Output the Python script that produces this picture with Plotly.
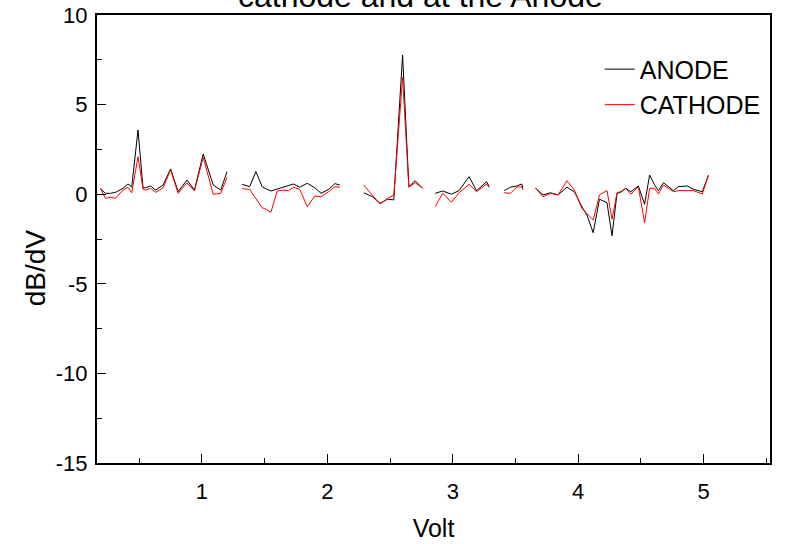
import plotly.graph_objects as go

# ---- data (None = gap between segments) ----
volt = [
    0.19, 0.23, 0.27, 0.31, 0.37, 0.41, 0.44, 0.49, 0.53, 0.55, 0.59, 0.63, 0.69, 0.75, 0.81, 0.88, 0.94, 1.01, 1.09, 1.15, 1.20,
    None,
    1.32, 1.38, 1.43, 1.48, 1.51, 1.55, 1.60, 1.65, 1.69, 1.73, 1.78, 1.84, 1.90, 1.95, 2.01, 2.06, 2.10,
    None,
    2.29, 2.36, 2.42, 2.48, 2.53, 2.60, 2.65, 2.70, 2.76,
    None,
    2.86, 2.92, 2.99, 3.05, 3.13, 3.19, 3.27, 3.29,
    None,
    3.41, 3.46, 3.51, 3.55, 3.56,
    None,
    3.66, 3.72, 3.78, 3.84, 3.91, 3.97, 4.03, 4.07, 4.12, 4.17, 4.23, 4.27, 4.31, 4.34,
    4.38, 4.42, 4.48, 4.53, 4.57, 4.61, 4.64, 4.68, 4.76, 4.80, 4.87, 4.92, 4.99, 5.04,
]

anode = [
    0.33, 0.05, 0.05, 0.10, 0.33, 0.57, 0.40, 3.58, 0.36, 0.36, 0.46, 0.23, 0.51, 1.41, 0.14, 0.79, 0.23, 2.24, 0.51, 0.23, 1.26,
    None,
    0.55, 0.42, 1.26, 0.42, 0.30, 0.18, 0.29, 0.39, 0.45, 0.57, 0.39, 0.61, 0.36, 0.05, 0.27, 0.59, 0.51,
    None,
    0.08, -0.14, -0.51, -0.28, -0.32, 7.77, 0.42, 0.75, 0.33,
    None,
    0.05, 0.18, 0.00, 0.20, 0.98, 0.20, 0.70, 0.42,
    None,
    0.20, 0.39, 0.46, 0.57, 0.33,
    None,
    0.33, -0.04, 0.08, -0.04, 0.39, 0.14, -0.70, -1.16, -2.15, -0.28, -0.47, -2.32, 0.05, 0.11,
    0.33, 0.14, 0.46, -0.56, 1.07, 0.51, 0.20, 0.64, 0.20, 0.42, 0.46, 0.27, 0.14, 1.07,
]

cathode = [
    0.33, -0.23, -0.17, -0.23, 0.23, 0.39, 0.08, 2.09, 0.27, 0.23, 0.33, 0.10, 0.36, 1.35, 0.05, 0.64, 0.18, 2.06, -0.01, 0.05, 0.94,
    None,
    0.31, 0.27, -0.25, -0.75, -0.84, -1.01, 0.18, 0.23, 0.20, 0.39, 0.27, -0.70, -0.10, -0.14, 0.14, 0.42, 0.39,
    None,
    0.51, -0.04, -0.55, -0.23, -0.06, 6.52, 0.39, 0.64, 0.33,
    None,
    -0.70, 0.05, -0.45, 0.08, 0.55, 0.14, 0.57, 0.39,
    None,
    0.08, 0.05, 0.39, 0.42, 0.23,
    None,
    0.33, -0.14, 0.05, -0.04, 0.75, 0.23, -0.79, -1.10, -1.44, -0.04, 0.20, -1.40, 0.08, 0.15,
    0.33, 0.00, 0.42, -1.59, 0.33, 0.33, 0.01, 0.51, 0.14, 0.20, 0.20, 0.20, 0.01, 1.07,
]

x_ticks = [1, 2, 3, 4, 5]
y_ticks = [-15, -10, -5, 0, 5, 10]

FONT = "Liberation Sans, Arial, sans-serif"

fig = go.Figure()
fig.add_trace(go.Scatter(x=volt, y=anode, mode="lines", name="ANODE",
                         line=dict(color="black", width=1), connectgaps=False))
fig.add_trace(go.Scatter(x=volt, y=cathode, mode="lines", name="CATHODE",
                         line=dict(color="red", width=1), connectgaps=False))

fig.update_layout(
    width=785, height=544,
    margin=dict(l=97, r=15, t=15, b=81, autoexpand=False),
    paper_bgcolor="white", plot_bgcolor="white",
    font=dict(family=FONT, color="black", size=22),
    showlegend=True,
    legend=dict(x=0.747, y=0.93, xanchor="left", yanchor="top",
                bgcolor="rgba(0,0,0,0)", borderwidth=0,
                font=dict(size=25, family=FONT), tracegroupgap=0),
    annotations=[
        dict(text="cathode and at the Anode", xref="paper", yref="paper",
             x=0.481, y=1.0, xanchor="center", yanchor="bottom", yshift=-1,
             showarrow=False, font=dict(size=32, family=FONT)),
        dict(text="dB/dV", xref="paper", yref="paper",
             x=-0.092, y=0.435, xanchor="center", yanchor="middle",
             textangle=-90, showarrow=False, font=dict(size=28, family=FONT)),
    ],
)

fig.update_xaxes(
    range=[0.163, 5.53], tickvals=x_ticks, ticktext=[str(v) for v in x_ticks],
    ticks="inside", ticklen=9, tickwidth=1, tickcolor="black",
    minor=dict(dtick=0.5, tick0=0, ticks="inside", ticklen=5, tickcolor="black"),
    showline=True, linecolor="black", linewidth=2, mirror=True,
    showgrid=False, zeroline=False, ticklabelstandoff=8, automargin=False,
    title=dict(text="Volt", standoff=16, font=dict(size=25, family=FONT)),
)
fig.update_yaxes(
    range=[-15, 10], tickvals=y_ticks, ticktext=[str(v) for v in y_ticks],
    ticks="inside", ticklen=9, tickwidth=1, tickcolor="black",
    minor=dict(dtick=2.5, tick0=0, ticks="inside", ticklen=5, tickcolor="black"),
    showline=True, linecolor="black", linewidth=2, mirror=True,
    showgrid=False, zeroline=False, ticklabelstandoff=3, automargin=False,
)

fig.write_html("out.html", config={"displayModeBar": False},
               post_script="document.body.style.margin='0px';")
